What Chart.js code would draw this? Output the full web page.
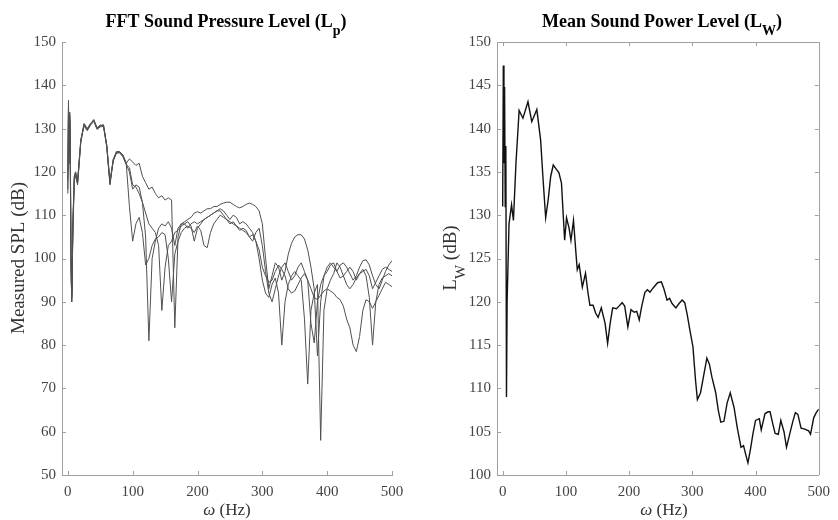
<!DOCTYPE html>
<html>
<head>
<meta charset="utf-8">
<script src="https://cdn.jsdelivr.net/npm/chart.js@4.4.1/dist/chart.umd.min.js"></script>
<style>
  body { margin: 0; background: #fff; }
  .box { position: absolute; top: 0; width: 419px; height: 520px; }
</style>
</head>
<body>
<div class="box" style="left:0"><canvas id="lp"></canvas></div>
<div class="box" style="left:419px"><canvas id="lw"></canvas></div>
<script>
// tick labels
const xTicks = [0, 100, 200, 300, 400, 500];
const lpTicks = [50, 60, 70, 80, 90, 100, 110, 120, 130, 140, 150];
const lwTicks = [100, 105, 110, 115, 120, 125, 130, 135, 140, 145, 150];

// left plot: frequency grid (Hz) shared by the 4 measured spectra
const freqLp = [0, 1, 2, 3, 4, 5, 6, 8, 10, 12, 15,
  20, 25, 30, 35, 40, 45,
  50, 55, 60, 65, 70, 75, 80, 85, 90, 95,
  100, 105, 110, 115, 120, 125, 130, 135, 140, 145,
  150, 155, 160, 165, 170, 175, 180, 185, 190, 195,
  200, 205, 210, 215, 220, 225, 230, 235, 240, 245,
  250, 255, 260, 265, 270, 275, 280, 285, 290, 295,
  300, 305, 310, 315, 320, 325, 330, 335, 340, 345,
  350, 355, 360, 365, 370, 375, 380, 385, 390, 395,
  400, 405, 410, 415, 420, 425, 430, 435, 440, 445,
  450, 455, 460, 465, 470, 475, 480, 485, 490, 495,
  500];

const spl1 = [118, 136.5, 124, 133.8, 122, 98, 90, 108, 119, 120, 117.5,
  127, 131, 129.7, 131, 132, 130,
  130.6, 130.8, 126, 117.5, 122.8, 124.5, 124.6, 123.8, 122, 123,
  122.3, 121.5, 122, 119, 117.5, 116, 116.5, 115, 114, 114.5,
  113.5, 114, 113.5, 84, 105, 108, 108.5, 109, 109.5, 110.5,
  110.8, 110.5, 111, 111.5, 111.5, 112, 112, 112.5, 112.8, 113,
  113, 112.5, 112, 111.7, 112, 112.5, 112.8, 112.5, 112, 111,
  108, 100, 93, 96, 99, 98, 95, 97, 101, 103.5,
  105, 105.5, 105.5, 104.5, 102, 98, 93, 77.5, 90, 96,
  98, 99, 98, 97, 98.5, 99, 98, 96.5, 95, 96,
  98, 99.5, 99.7, 98.5, 96, 94, 93, 95, 97, 98.5,
  99.5];

const spl2 = [116, 135, 127, 133, 119, 100, 91, 109, 118.5, 119.5, 118,
  127.5, 130.6, 129.5, 130.8, 131.7, 129.8,
  130.4, 130.5, 125.7, 117, 122.5, 124.3, 124.4, 123.5, 121.7, 121,
  117, 116.5, 115, 113, 105, 81, 100, 104, 107, 108,
  107.5, 108.5, 107, 103, 107, 108, 108, 107, 108, 108.5,
  108, 108.5, 109, 109.5, 110, 110.5, 111, 111.5, 111, 110,
  109, 110, 109.5, 108, 108.5, 108, 107, 106, 104, 100,
  95, 92, 91, 94, 95.5, 92, 80, 90, 94, 96,
  97, 96, 95, 86, 71, 88, 92, 94, 58, 88,
  93, 95, 96.5, 99, 98, 96, 94, 93, 94, 95.5,
  96.5, 97, 97.5, 96, 93, 94.5, 96, 97.5, 98, 97.5,
  97];

const spl3 = [120, 134, 122, 132, 116, 95, 92, 110, 119, 120, 117,
  126.8, 130.9, 129.9, 131.2, 131.9, 130.2,
  130.8, 130.6, 126.2, 117.8, 122.6, 124.6, 124.5, 123.6, 121.8, 120,
  116, 117, 116.5, 113, 110.5, 108, 107, 106, 103, 88,
  98, 103, 104, 106, 106.5, 107.5, 108, 108.5, 107.5, 104,
  107, 108, 109, 109.5, 110, 110.5, 111, 111, 110, 109,
  108.5, 108, 107.5, 107, 106.5, 106, 105, 105.5, 104, 102,
  98, 96, 94.5, 95, 97, 98.5, 97.5, 96, 93, 92,
  92.5, 94, 95.5, 96.5, 95, 93, 91, 90.5, 91.5, 92.5,
  93, 92.5, 92, 91, 90.5, 89, 86, 84, 80, 78.5,
  82, 88, 90.5, 90, 88.5, 90, 91.5, 93, 94.5, 94,
  93.5];

const spl4 = [115, 133, 125, 131, 120, 99, 93, 107, 118, 119, 117.3,
  127.2, 131.2, 130, 131.1, 132.1, 130.1,
  130.7, 130.9, 126.1, 117.3, 122.9, 124.7, 124.7, 123.9, 122.1, 112,
  104, 108, 109.5, 106, 98.5, 100, 103, 104.5, 105, 106,
  105.5, 100, 90, 101, 104, 106, 107, 107.5, 107, 106,
  107.5, 106.5, 103, 102.5, 106, 108, 109, 110, 109.5, 109,
  108, 108.5, 107.5, 106.5, 107, 106.5, 105, 104, 106, 107,
  103, 97, 92, 90, 93, 96, 98, 99, 97, 95,
  96, 98, 99, 97, 95, 85, 80.5, 90, 94, 96,
  97, 98.5, 99, 97, 95.5, 96, 97, 98, 97, 95,
  96.5, 97.5, 96, 91, 80, 90, 94, 95.5, 96, 96.5,
  96];

// right plot: mean sound power level
const freqLw = [0, 1, 2, 3, 4, 5, 6, 7, 10, 14, 17, 21, 26, 32, 40, 46, 54, 60, 64, 68,
  72, 76, 80, 85, 89, 93, 98, 101, 105, 108, 112, 116, 118, 121, 126, 131, 135, 138, 143, 147,
  151, 156, 162, 166, 170, 174, 180, 184, 189, 193, 198, 203, 208, 212, 216, 220, 225, 229, 233, 238,
  245, 251, 255, 260, 264, 268, 274, 279, 284, 288, 292, 296, 301, 305, 308, 313, 318, 323, 327, 331,
  337, 341, 345, 350, 355, 360, 366, 371, 377, 381, 384, 388, 392, 396, 400, 406, 409, 415, 420, 423,
  427, 431, 436, 440, 445, 449, 455, 459, 463, 467, 472, 478, 484, 487, 492, 496, 500];
const lw = [131, 147.3, 136, 144.8, 131, 138, 109, 120, 129, 131.2, 129.4, 136, 142.1, 141.2, 143.1, 140.8, 142.2, 138.7, 134, 129.7,
  131.8, 134.5, 135.8, 135.3, 134.9, 133.7, 127.1, 129.7, 128.5, 127.1, 129.4, 125.5, 123.7, 124.3, 121.7, 123.3, 121, 119.6, 119.6, 118.7,
  118.2, 119.3, 117.5, 115.2, 117.5, 119.3, 119.2, 119.5, 119.9, 119.5, 117.1, 119.1, 118.8, 118.9, 117.9, 119.5, 121.1, 121.4, 121.1, 121.6,
  122.2, 122.3, 121.5, 120.2, 120.4, 119.8, 119.3, 119.8, 120.2, 119.9, 118.5, 116.8, 114.8, 111, 108.7, 109.5, 111.5, 113.5, 112.8, 111.3,
  109.5, 107.5, 106.1, 106.2, 108.3, 109.5, 107.8, 105.5, 103.2, 103.4, 102.5, 101.4, 103, 104.8, 106.3, 106.5, 105.2, 107.1, 107.3, 107.3,
  106, 104.8, 104.7, 106.3, 105, 103.2, 105, 106.2, 107.2, 107, 105.4, 105.3, 105.1, 104.7, 106.6, 107.2, 107.6];

const serif = "'Liberation Serif', 'DejaVu Serif', serif";
const axisGray = '#a0a0a0';

function pts(xs, ys) {
  return xs.map((f, i) => ({ x: f, y: ys[i] }));
}

// draws text made of parts: [text, 'sub' | 'it' | '']
function drawParts(ctx, parts, cx, base, size, bold) {
  const w = bold ? 'bold ' : '';
  const fontOf = k => k === 'sub' ? w + Math.round(size * 0.78) + 'px ' + serif
    : (k === 'it' ? 'italic ' : '') + w + size + 'px ' + serif;
  let total = 0;
  parts.forEach(p => { ctx.font = fontOf(p[1]); total += ctx.measureText(p[0]).width; });
  let x = cx - total / 2;
  ctx.textAlign = 'left';
  ctx.textBaseline = 'alphabetic';
  parts.forEach(p => {
    ctx.font = fontOf(p[1]);
    ctx.fillText(p[0], x, p[1] === 'sub' ? base + size * 0.45 : base);
    x += ctx.measureText(p[0]).width;
  });
}

const decor = {
  id: 'decor',
  afterDraw(chart, args, o) {
    const { ctx, chartArea: a, scales: { x, y } } = chart;
    ctx.save();
    ctx.strokeStyle = axisGray;
    ctx.lineWidth = 1;
    ctx.beginPath();
    x.ticks.forEach(t => {
      const p = Math.round(x.getPixelForValue(t.value)) + 0.5;
      ctx.moveTo(p, a.bottom); ctx.lineTo(p, a.bottom - 4);
      if (o.box) { ctx.moveTo(p, a.top); ctx.lineTo(p, a.top + 4); }
    });
    y.ticks.forEach(t => {
      const p = Math.round(y.getPixelForValue(t.value)) + 0.5;
      ctx.moveTo(a.left, p); ctx.lineTo(a.left + 4, p);
      if (o.box) { ctx.moveTo(a.right, p); ctx.lineTo(a.right - 4, p); }
    });
    if (o.box) {
      ctx.moveTo(a.left, Math.round(a.top) + 0.5); ctx.lineTo(a.right, Math.round(a.top) + 0.5);
      ctx.moveTo(Math.round(a.right) + 0.5, a.top); ctx.lineTo(Math.round(a.right) + 0.5, a.bottom);
    }
    ctx.stroke();

    ctx.fillStyle = '#000';
    drawParts(ctx, o.title, o.titleX, 27, 18, true);
    ctx.fillStyle = '#333';
    drawParts(ctx, [['\u03c9', 'it'], [' (Hz)', '']], o.xlabX, 515, 17, false);
    ctx.translate(o.ylabX, 258);
    ctx.rotate(-Math.PI / 2);
    drawParts(ctx, o.ylabel, 0, 6, 19, false);
    ctx.restore();
  }
};

function axisOpts(min, max, ticks, width) {
  return {
    x: {
      type: 'linear', min: -9, max: 500,
      afterBuildTicks: s => { s.ticks = xTicks.map(v => ({ value: v })); },
      afterFit: s => { s.height = 45; },
      grid: { display: false, drawTicks: false },
      border: { display: true, color: axisGray },
      ticks: { color: '#444', font: { family: serif, size: 15 }, padding: 8, maxRotation: 0, autoSkip: false }
    },
    y: {
      type: 'linear', min: min, max: max,
      afterBuildTicks: s => { s.ticks = ticks.map(v => ({ value: v })); },
      afterFit: s => { s.width = width; },
      grid: { display: false, drawTicks: false },
      border: { display: true, color: axisGray },
      ticks: { color: '#444', font: { family: serif, size: 15 }, padding: 6, autoSkip: false }
    }
  };
}

const grayLine = { borderColor: '#505050', borderWidth: 1, pointRadius: 0, tension: 0 };

new Chart(document.getElementById('lp'), {
  type: 'line',
  data: {
    datasets: [
      Object.assign({ label: 'Mic 1', data: pts(freqLp, spl1) }, grayLine),
      Object.assign({ label: 'Mic 2', data: pts(freqLp, spl2) }, grayLine),
      Object.assign({ label: 'Mic 3', data: pts(freqLp, spl3) }, grayLine),
      Object.assign({ label: 'Mic 4', data: pts(freqLp, spl4) }, grayLine)
    ]
  },
  options: {
    responsive: true, maintainAspectRatio: false, animation: false,
    layout: { padding: { top: 42, right: 27, left: 0, bottom: 0 } },
    scales: axisOpts(50, 150, lpTicks, 62),
    plugins: {
      legend: { display: false }, tooltip: { enabled: false },
      decor: {
        box: false, titleX: 226, xlabX: 227, ylabX: 18,
        title: [['FFT Sound Pressure Level (L', ''], ['p', 'sub'], [')', '']],
        ylabel: [['Measured SPL (dB)', '']]
      }
    }
  },
  plugins: [decor]
});

new Chart(document.getElementById('lw'), {
  type: 'line',
  data: {
    datasets: [{ label: 'Lw', data: pts(freqLw, lw), borderColor: '#111', borderWidth: 1.4, pointRadius: 0, tension: 0 }]
  },
  options: {
    responsive: true, maintainAspectRatio: false, animation: false,
    layout: { padding: { top: 42, right: 11, left: 0, bottom: 0 } },
    scales: axisOpts(100, 150, lwTicks, 78),
    plugins: {
      legend: { display: false }, tooltip: { enabled: false },
      decor: {
        box: true, titleX: 243, xlabX: 245, ylabX: 31,
        title: [['Mean Sound Power Level (L', ''], ['W', 'sub'], [')', '']],
        ylabel: [['L', ''], ['W', 'sub'], [' (dB)', '']]
      }
    }
  },
  plugins: [decor]
});
</script>
</body>
</html>
